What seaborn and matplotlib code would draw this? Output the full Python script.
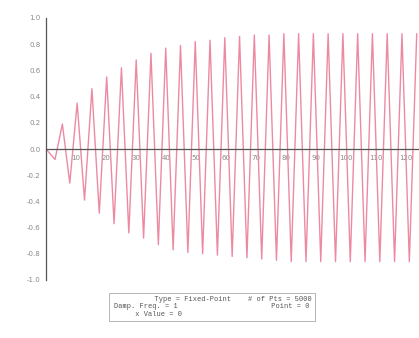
import matplotlib
matplotlib.use('Agg')
import matplotlib.pyplot as plt
from matplotlib.ticker import MultipleLocator
import seaborn as sns
import pandas as pd

sns.set_style("white")
plt.rcParams['font.family'] = ['DejaVu Sans']

# DATA (alternating troughs / peaks of the response)
trough_t = [3.0, 7.92, 12.84, 17.76, 22.68, 27.6, 32.52, 37.44, 42.36, 47.28,
            52.2, 57.12, 62.04, 66.96, 71.88, 76.8, 81.72, 86.64, 91.56, 96.48,
            101.4, 106.32, 111.24, 116.16, 121.08]
trough_y = [-0.08, -0.26, -0.39, -0.49, -0.57, -0.64, -0.68, -0.73, -0.77, -0.79,
            -0.80, -0.81, -0.82, -0.83, -0.84, -0.85, -0.86, -0.86, -0.86, -0.86,
            -0.86, -0.86, -0.86, -0.86, -0.86]
peak_t = [5.46, 10.38, 15.3, 20.22, 25.14, 30.06, 34.98, 39.9, 44.82, 49.74,
          54.66, 59.58, 64.5, 69.42, 74.34, 79.26, 84.18, 89.1, 94.02, 98.94,
          103.86, 108.78, 113.7, 118.62, 123.54]
peak_y = [0.19, 0.35, 0.46, 0.55, 0.62, 0.68, 0.73, 0.77, 0.79, 0.82,
          0.83, 0.85, 0.86, 0.87, 0.87, 0.88, 0.88, 0.88, 0.88, 0.88,
          0.88, 0.88, 0.88, 0.88, 0.88]
start_t = [0.0]
start_y = [0.0]

x_ticks = [10, 20, 30, 40, 50, 60, 70, 80, 90, 100, 110, 120]
y_ticks = [-1.0, -0.8, -0.6, -0.4, -0.2, 0.0, 0.2, 0.4, 0.6, 0.8, 1.0]

legend_text = ("          Type = Fixed-Point    # of Pts = 5000\n"
               "Damp. Freq. = 1                      Point = 0\n"
               "     x Value = 0                              ")

df = pd.DataFrame({'t': start_t + trough_t + peak_t,
                   'y': start_y + trough_y + peak_y}).sort_values('t')

fig = plt.figure(figsize=(4.19, 3.38), dpi=100)
ax = fig.add_axes([46 / 419, 1 - 280 / 338, 1 - 46 / 419, (280 - 18) / 338])

sns.lineplot(data=df, x='t', y='y', sort=False, color='#ec8aa3', linewidth=1.0, ax=ax)

ax.set_xlim(0, 124.3)
ax.set_ylim(-1.0, 1.0)
ax.set_xlabel('')
ax.set_ylabel('')

ax.spines['top'].set_visible(False)
ax.spines['right'].set_visible(False)
ax.spines['bottom'].set_position(('data', 0))
ax.spines['bottom'].set_color('#555555')
ax.spines['left'].set_color('#555555')
ax.spines['bottom'].set_linewidth(0.9)
ax.spines['left'].set_linewidth(0.9)

ax.set_xticks(x_ticks)
ax.set_yticks(y_ticks)
ax.set_yticklabels([f'{v:.1f}' for v in y_ticks])
ax.xaxis.set_minor_locator(MultipleLocator(5))
ax.yaxis.set_minor_locator(MultipleLocator(0.1))
ax.tick_params(axis='both', which='major', direction='inout', length=4, width=0.7,
               color='#555555', labelsize=5, labelcolor='#888888', pad=2)
ax.tick_params(axis='both', which='minor', direction='inout', length=2.5, width=0.6,
               color='#555555')

fig.text(0.505, 0.092, legend_text, ha='center', va='center', fontsize=5.0,
         family='Liberation Mono', color='#555555', linespacing=1.15,
         bbox=dict(boxstyle='square,pad=0.45', facecolor='white',
                   edgecolor='#aaaaaa', linewidth=0.6))

fig.savefig('out.png', dpi=100)
